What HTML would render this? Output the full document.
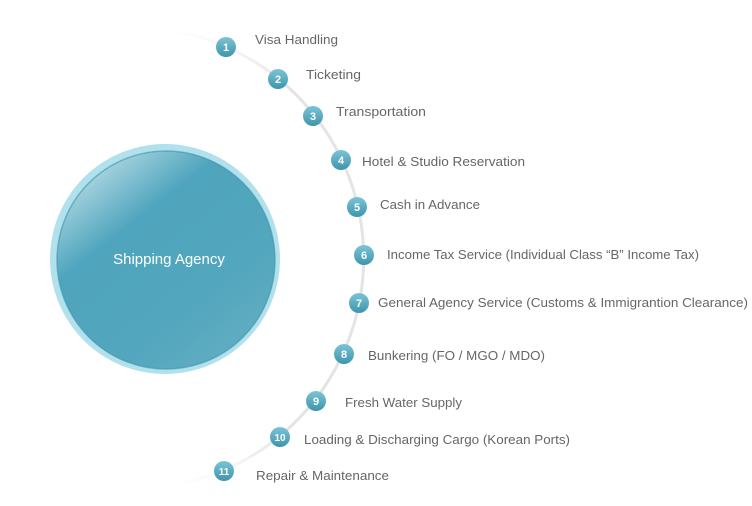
<!DOCTYPE html>
<html><head><meta charset="utf-8"><style>
html,body{margin:0;padding:0;background:#fff;width:752px;height:506px;overflow:hidden}
svg{display:block}
</style></head><body>
<svg width="752" height="506" viewBox="0 0 752 506" xmlns="http://www.w3.org/2000/svg">
<defs>
<linearGradient id="arcg" x1="0" y1="0" x2="0" y2="1">
<stop offset="0" stop-color="#e6e6e6" stop-opacity="0"/>
<stop offset="0.12" stop-color="#e4e4e4"/>
<stop offset="0.88" stop-color="#e4e4e4"/>
<stop offset="1" stop-color="#e6e6e6" stop-opacity="0"/>
</linearGradient>
<linearGradient id="big" x1="0.15" y1="0.05" x2="0.85" y2="0.95">
<stop offset="0" stop-color="#b6dbe5"/>
<stop offset="0.3" stop-color="#4fa5bd"/>
<stop offset="0.7" stop-color="#52a6bd"/>
<stop offset="1" stop-color="#62aec2"/>
</linearGradient>
<linearGradient id="bd" x1="0" y1="0" x2="0" y2="1">
<stop offset="0" stop-color="#7cc4d6"/>
<stop offset="1" stop-color="#3d95ad"/>
</linearGradient>
</defs>
<path d="M163,29 A231,231 0 0 1 163,487" fill="none" stroke="url(#arcg)" stroke-width="3"/>
<circle cx="165" cy="259" r="115" fill="#b1e1ec"/>
<circle cx="166" cy="260" r="109" fill="url(#big)"/>
<circle cx="166" cy="260" r="109" fill="none" stroke="#3f93aa" stroke-width="1.5" stroke-opacity="0.6"/>
<text x="169" y="264" font-family="Liberation Sans, sans-serif" font-size="15" fill="#fff" text-anchor="middle">Shipping Agency</text>
<g font-family="Liberation Sans, sans-serif" font-size="11" font-weight="bold" fill="#fff" text-anchor="middle">
<circle cx="226" cy="47" r="10" fill="url(#bd)"/><text x="226" y="51">1</text>
<circle cx="278" cy="79" r="10" fill="url(#bd)"/><text x="278" y="83">2</text>
<circle cx="313" cy="116" r="10" fill="url(#bd)"/><text x="313" y="120">3</text>
<circle cx="341" cy="160" r="10" fill="url(#bd)"/><text x="341" y="164">4</text>
<circle cx="357" cy="207" r="10" fill="url(#bd)"/><text x="357" y="211">5</text>
<circle cx="364" cy="255" r="10" fill="url(#bd)"/><text x="364" y="259">6</text>
<circle cx="359" cy="303" r="10" fill="url(#bd)"/><text x="359" y="307">7</text>
<circle cx="344" cy="354" r="10" fill="url(#bd)"/><text x="344" y="358">8</text>
<circle cx="316" cy="401" r="10" fill="url(#bd)"/><text x="316" y="405">9</text>
<circle cx="280" cy="437" r="10" fill="url(#bd)"/><text x="280" y="441" font-size="10">10</text>
<circle cx="224" cy="471" r="10" fill="url(#bd)"/><text x="224" y="475" font-size="10">11</text>
</g>
<g font-family="Liberation Sans, sans-serif" font-size="13" fill="#666">
<text x="255" y="44" textLength="83" lengthAdjust="spacingAndGlyphs">Visa Handling</text>
<text x="306" y="79" textLength="55" lengthAdjust="spacingAndGlyphs">Ticketing</text>
<text x="336" y="116" textLength="90" lengthAdjust="spacingAndGlyphs">Transportation</text>
<text x="362" y="166" textLength="163" lengthAdjust="spacingAndGlyphs">Hotel &amp; Studio Reservation</text>
<text x="380" y="209" textLength="100" lengthAdjust="spacingAndGlyphs">Cash in Advance</text>
<text x="387" y="259" textLength="312" lengthAdjust="spacingAndGlyphs">Income Tax Service (Individual Class “B” Income Tax)</text>
<text x="378" y="307" textLength="370" lengthAdjust="spacingAndGlyphs">General Agency Service (Customs &amp; Immigrantion Clearance)</text>
<text x="368" y="360" textLength="177" lengthAdjust="spacingAndGlyphs">Bunkering (FO / MGO / MDO)</text>
<text x="345" y="407" textLength="117" lengthAdjust="spacingAndGlyphs">Fresh Water Supply</text>
<text x="304" y="444" textLength="266" lengthAdjust="spacingAndGlyphs">Loading &amp; Discharging Cargo (Korean Ports)</text>
<text x="256" y="480" textLength="133" lengthAdjust="spacingAndGlyphs">Repair &amp; Maintenance</text>
</g>
</svg>
</body></html>
